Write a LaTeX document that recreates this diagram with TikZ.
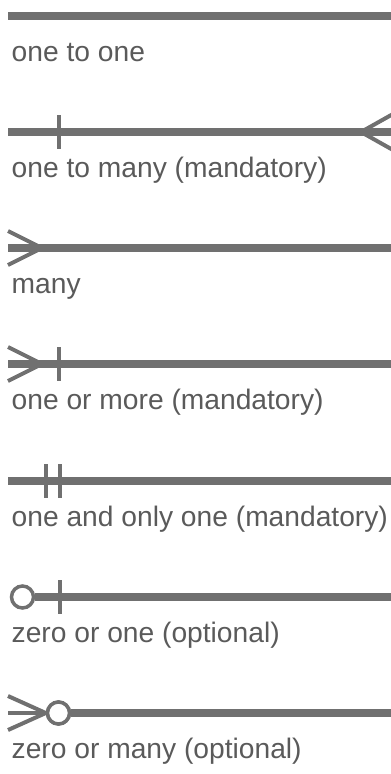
\documentclass[tikz,border=0pt]{standalone}
\usepackage{fontspec}
\setmainfont{Liberation Sans}
\definecolor{relline}{HTML}{707070}
\definecolor{labeltext}{HTML}{5A5A5A}
\begin{document}
\begin{tikzpicture}[x=1pt,y=-1pt,
  relation/.style={draw=relline, line width=7.5pt},
  prong/.style={draw=relline, line width=4pt, line join=miter},
  bar/.style={draw=relline, line width=4pt},
  ring/.style={circle, draw=relline, line width=3.5pt, fill=white,
    minimum size=22pt, inner sep=0pt},
  caption/.style={anchor=base west, inner sep=0pt, text=labeltext,
    font=\fontsize{28.2}{34}\selectfont}]
\useasboundingbox (0,0) rectangle (391,774);

% one to one
\coordinate (a1) at (8,16);
\coordinate (b1) at (391,16);
\draw[relation] (a1) -- (b1);
\node[caption] (t1) at (11.5,61) {one to one};

% one to many (mandatory): bar on the left, crow's foot on the right
\coordinate (a2) at (8,132);
\coordinate (b2) at (391,132);
\coordinate (m2) at (361,132);
\coordinate (u2) at (393,114);
\coordinate (d2) at (393,150);
\coordinate (p2) at (59,115);
\coordinate (q2) at (59,149);
\draw[relation] (a2) -- (b2);
\draw[bar] (p2) -- (q2);
\draw[prong] (u2) -- (m2) -- (d2);
\node[caption] (t2) at (11.5,177) {one to many (mandatory)};

% many
\coordinate (a3) at (8,248);
\coordinate (b3) at (391,248);
\coordinate (m3) at (42,248);
\coordinate (u3) at (8,231);
\coordinate (d3) at (8,265);
\draw[relation] (a3) -- (b3);
\draw[prong] (u3) -- (m3) -- (d3);
\node[caption] (t3) at (11.5,293) {many};

% one or more (mandatory)
\coordinate (a4) at (8,364);
\coordinate (b4) at (391,364);
\coordinate (m4) at (42,364);
\coordinate (u4) at (8,347);
\coordinate (d4) at (8,381);
\coordinate (p4) at (59,347);
\coordinate (q4) at (59,381);
\draw[relation] (a4) -- (b4);
\draw[prong] (u4) -- (m4) -- (d4);
\draw[bar] (p4) -- (q4);
\node[caption] (t4) at (11.5,409) {one or more (mandatory)};

% one and only one (mandatory)
\coordinate (a5) at (8,481);
\coordinate (b5) at (391,481);
\coordinate (p5) at (46,464);
\coordinate (q5) at (46,498);
\coordinate (r5) at (60,464);
\coordinate (s5) at (60,498);
\draw[relation] (a5) -- (b5);
\draw[bar] (p5) -- (q5);
\draw[bar] (r5) -- (s5);
\node[caption] (t5) at (11.5,526) {one and only one (mandatory)};

% zero or one (optional)
\coordinate (b6) at (391,597);
\coordinate (p6) at (60,580);
\coordinate (q6) at (60,614);
\node[ring] (c6) at (22.5,597) {};
\draw[relation] (c6.east) -- (b6);
\draw[bar] (p6) -- (q6);
\node[caption] (t6) at (11.5,642) {zero or one (optional)};

% zero or many (optional)
\coordinate (b7) at (391,713);
\coordinate (a7) at (8,713);
\coordinate (u7) at (8,696);
\coordinate (d7) at (8,730);
\node[ring] (c7) at (58.5,713) {};
\draw[relation] (c7.east) -- (b7);
\draw[prong] (u7) -- (c7.west) -- (d7);
\draw[prong] (a7) -- (c7.west);
\node[ring] at (c7) {};
\node[caption] (t7) at (11.5,758) {zero or many (optional)};
\end{tikzpicture}
\end{document}
